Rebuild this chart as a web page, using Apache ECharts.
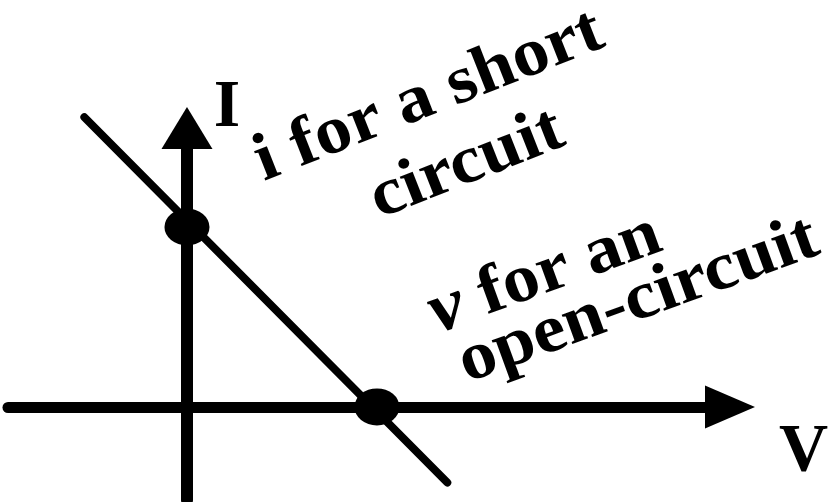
<!DOCTYPE html>
<html>
<head>
<meta charset="utf-8">
<script src="https://cdn.jsdelivr.net/npm/echarts@6/dist/echarts.min.js"></script>
<style>
  html, body { margin: 0; padding: 0; background: #fff; }
  #chart { width: 830px; height: 502px; }
</style>
</head>
<body>
<div id="chart"></div>
<script>
// load line end points (V in units of Voc, I in units of Isc)
const lineV = [-0.54, 1.37]
const lineI = [1.61, -0.42]

// the two marked intercepts
const dotV = [0, 1]
const dotI = [1, 0]

// axis range (no ticks shown)
const vRange = [-0.942, 2.858]
const iRange = [-0.517, 1.55]

const axisNames = ['V', 'I']
const shortLabel = ['i for a short', 'circuit']
const openLabel = ['{v|v} for an', 'open-circuit']

const chart = echarts.init(document.getElementById('chart'))

const serif = '"Liberation Serif", "DejaVu Serif", serif'
const deg = d => d * Math.PI / 180

function label(x, y, text, rot, align, extra) {
  return {
    type: 'text',
    x, y,
    rotation: deg(rot),
    scaleX: rot ? 1.08 : 1,
    z: 10,
    style: Object.assign({
      text,
      fill: '#000',
      fontFamily: serif,
      fontWeight: 'bold',
      fontSize: 68,
      align,
      verticalAlign: 'middle'
    }, extra || {})
  }
}

const hidden = {
  axisTick: { show: false },
  axisLabel: { show: false },
  splitLine: { show: false }
}

chart.setOption({
  animation: false,
  backgroundColor: '#fff',
  grid: { left: 8, right: 100, top: 128, bottom: 2 },
  xAxis: Object.assign({
    type: 'value',
    min: vRange[0],
    max: vRange[1],
    axisLine: {
      onZero: true,
      symbol: ['none', 'triangle'],
      symbolSize: [43, 50],
      lineStyle: { color: '#000', width: 11 }
    }
  }, hidden),
  yAxis: Object.assign({
    type: 'value',
    min: iRange[0],
    max: iRange[1],
    axisLine: {
      onZero: true,
      symbol: ['none', 'triangle'],
      symbolSize: [51, 42],
      lineStyle: { color: '#000', width: 12 }
    }
  }, hidden),
  series: [
    {
      type: 'line',
      data: lineV.map((v, i) => [v, lineI[i]]),
      showSymbol: false,
      symbol: 'none',
      clip: false,
      silent: true,
      z: 3,
      lineStyle: { color: '#000', width: 8, cap: 'round' }
    },
    {
      type: 'scatter',
      data: dotV.map((v, i) => [v, dotI[i]]),
      symbol: 'circle',
      symbolSize: [45, 37],
      silent: true,
      z: 4,
      itemStyle: { color: '#000', opacity: 1 }
    }
  ],
  graphic: [
    label(227, 108, axisNames[1], 0, 'center'),
    label(779, 452, axisNames[0], 0, 'left'),
    label(429, 97, shortLabel[0], 21.5, 'center'),
    label(467, 165, shortLabel[1], 21.5, 'center'),
    label(431, 316, openLabel[0], 20, 'left', {
      rich: { v: { fontFamily: serif, fontStyle: 'italic', fontWeight: 'bold', fontSize: 72, fill: '#000' } }
    }),
    label(461, 366, openLabel[1], 20, 'left')
  ]
})
</script>
</body>
</html>
